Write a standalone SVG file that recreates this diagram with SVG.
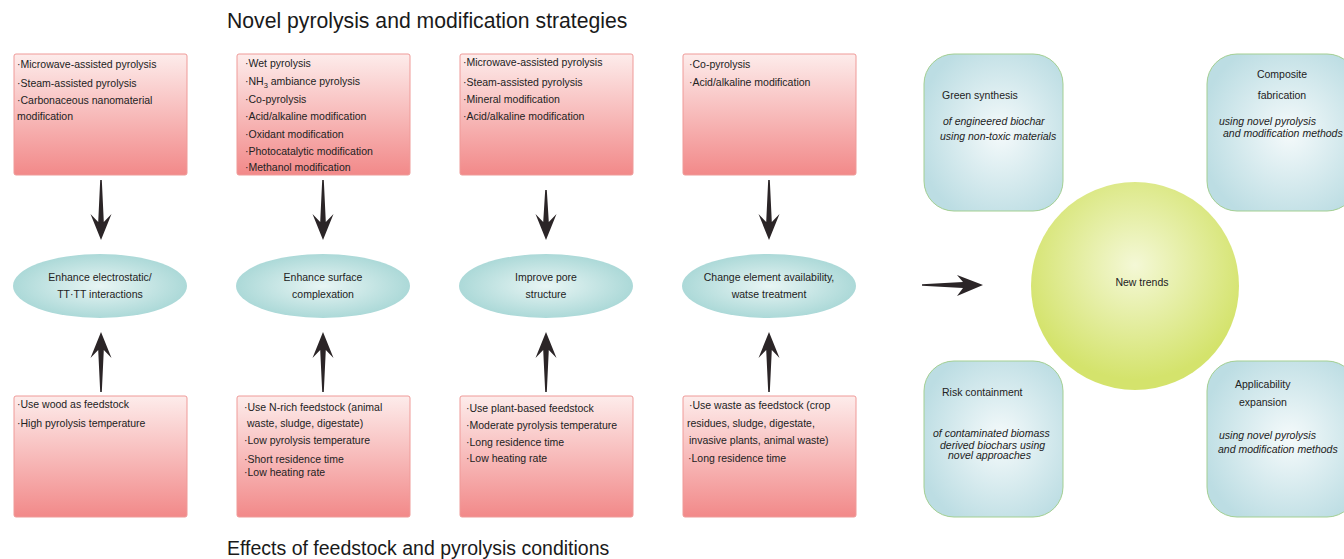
<svg xmlns="http://www.w3.org/2000/svg" width="1344" height="559" viewBox="0 0 1344 559">
<defs>
<linearGradient id="gBox" x1="0" y1="0" x2="0" y2="1">
<stop offset="0" stop-color="#fdeceb"/>
<stop offset="1" stop-color="#f28989"/>
</linearGradient>
<radialGradient id="gEll" cx="0.5" cy="0.5" r="0.5">
<stop offset="0" stop-color="#e8f5f4"/>
<stop offset="1" stop-color="#acd9d8"/>
</radialGradient>
<radialGradient id="gRound" cx="0.55" cy="0.5" r="0.6">
<stop offset="0" stop-color="#f5fafb"/>
<stop offset="1" stop-color="#bcdde3"/>
</radialGradient>
<radialGradient id="gCircle" cx="0.5" cy="0.4" r="0.55">
<stop offset="0" stop-color="#f4f8d6"/>
<stop offset="1" stop-color="#d4e36c"/>
</radialGradient>
<style>
text{font-family:"Liberation Sans",Arial,sans-serif;fill:#222;}
.title{fill:#1a1a1a;}
.bt{font-size:10.5px;}
.et{font-size:10.5px;text-anchor:middle;}
.rt{font-size:10.5px;}
.it{font-size:10.5px;font-style:italic;}
.box{fill:url(#gBox);stroke:#ef9a98;stroke-width:1;}
.ell{fill:url(#gEll);}
.rbox{fill:url(#gRound);stroke:#a3cf92;stroke-width:1;}
.arr{fill:#2b2527;}
</style>
</defs>
<rect width="1344" height="559" fill="#ffffff"/>

<text class="title" x="227" y="28" font-size="21.2">Novel pyrolysis and modification strategies</text>
<text class="title" x="227" y="555" font-size="19.5">Effects of feedstock and pyrolysis conditions</text>

<g id="top1">
<rect class="box" x="14" y="54" width="173" height="121" rx="2"/>
<text class="bt" x="17" y="68">·Microwave-assisted pyrolysis</text>
<text class="bt" x="17" y="87">·Steam-assisted pyrolysis</text>
<text class="bt" x="17" y="104">·Carbonaceous nanomaterial</text>
<text class="bt" x="17" y="120">modification</text>
</g>
<g id="top2">
<rect class="box" x="237" y="54" width="173" height="121" rx="2"/>
<text class="bt" x="245" y="67">·Wet pyrolysis</text>
<text class="bt" x="245" y="85">·NH<tspan font-size="7.5" dy="3">3</tspan><tspan dy="-3"> ambiance pyrolysis</tspan></text>
<text class="bt" x="245" y="103">·Co-pyrolysis</text>
<text class="bt" x="245" y="120">·Acid/alkaline modification</text>
<text class="bt" x="245" y="138">·Oxidant modification</text>
<text class="bt" x="245" y="155">·Photocatalytic modification</text>
<text class="bt" x="245" y="171">·Methanol modification</text>
</g>
<g id="top3">
<rect class="box" x="460" y="54" width="173" height="121" rx="2"/>
<text class="bt" x="463" y="66">·Microwave-assisted pyrolysis</text>
<text class="bt" x="463" y="86">·Steam-assisted pyrolysis</text>
<text class="bt" x="463" y="103">·Mineral modification</text>
<text class="bt" x="463" y="120">·Acid/alkaline modification</text>
</g>
<g id="top4">
<rect class="box" x="683" y="54" width="173" height="121" rx="2"/>
<text class="bt" x="689" y="68">·Co-pyrolysis</text>
<text class="bt" x="689" y="86">·Acid/alkaline modification</text>
</g>

<g id="ell1">
<ellipse class="ell" cx="100" cy="286" rx="87" ry="32"/>
<text class="et" x="100" y="281">Enhance electrostatic/</text>
<text class="et" x="100" y="298">TT·TT interactions</text>
</g>
<g id="ell2">
<ellipse class="ell" cx="323" cy="286" rx="87" ry="32"/>
<text class="et" x="323" y="281">Enhance surface</text>
<text class="et" x="323" y="298">complexation</text>
</g>
<g id="ell3">
<ellipse class="ell" cx="546" cy="286" rx="87" ry="32"/>
<text class="et" x="546" y="281">Improve pore</text>
<text class="et" x="546" y="298">structure</text>
</g>
<g id="ell4">
<ellipse class="ell" cx="769" cy="286" rx="87" ry="32"/>
<text class="et" x="769" y="281">Change element availability,</text>
<text class="et" x="769" y="298">watse treatment</text>
</g>

<g id="bot1">
<rect class="box" x="14" y="396" width="173" height="121" rx="2"/>
<text class="bt" x="17" y="408">·Use wood as feedstock</text>
<text class="bt" x="17" y="427">·High pyrolysis temperature</text>
</g>
<g id="bot2">
<rect class="box" x="237" y="396" width="173" height="121" rx="2"/>
<text class="bt" x="244" y="411">·Use N-rich feedstock (animal</text>
<text class="bt" x="247" y="427">waste, sludge, digestate)</text>
<text class="bt" x="244" y="444">·Low pyrolysis temperature</text>
<text class="bt" x="244" y="463">·Short residence time</text>
<text class="bt" x="244" y="476">·Low heating rate</text>
</g>
<g id="bot3">
<rect class="box" x="460" y="396" width="173" height="121" rx="2"/>
<text class="bt" x="466" y="412">·Use plant-based feedstock</text>
<text class="bt" x="466" y="429">·Moderate pyrolysis temperature</text>
<text class="bt" x="466" y="446">·Long residence time</text>
<text class="bt" x="466" y="462">·Low heating rate</text>
</g>
<g id="bot4">
<rect class="box" x="683" y="396" width="173" height="121" rx="2"/>
<text class="bt" x="689" y="409">·Use waste as feedstock (crop</text>
<text class="bt" x="687" y="427">residues, sludge, digestate,</text>
<text class="bt" x="689" y="444">invasive plants, animal waste)</text>
<text class="bt" x="688" y="462">·Long residence time</text>
</g>

<g id="trends">
<circle cx="1135" cy="286" r="104" fill="url(#gCircle)"/>
<text class="rt" x="1142" y="286" text-anchor="middle">New trends</text>
</g>
<g id="green">
<rect class="rbox" x="924" y="54" width="139" height="157" rx="30"/>
<text class="rt" x="942" y="99">Green synthesis</text>
<text class="it" x="943" y="125">of engineered biochar</text>
<text class="it" x="940" y="140">using non-toxic materials</text>
</g>
<g id="composite">
<rect class="rbox" x="1207" y="54" width="150" height="157" rx="30"/>
<text class="rt" x="1282" y="78" text-anchor="middle">Composite</text>
<text class="rt" x="1282" y="99" text-anchor="middle">fabrication</text>
<text class="it" x="1219" y="125">using novel pyrolysis</text>
<text class="it" x="1223" y="137">and modification methods</text>
</g>
<g id="risk">
<rect class="rbox" x="924" y="361" width="139" height="156" rx="30"/>
<text class="rt" x="942" y="396">Risk containment</text>
<text class="it" x="933" y="437">of contaminated biomass</text>
<text class="it" x="940" y="449">derived biochars using</text>
<text class="it" x="948" y="459">novel approaches</text>
</g>
<g id="applicability">
<rect class="rbox" x="1207" y="361" width="150" height="156" rx="30"/>
<text class="rt" x="1235" y="388">Applicability</text>
<text class="rt" x="1239" y="406">expansion</text>
<text class="it" x="1219" y="439">using novel pyrolysis</text>
<text class="it" x="1218" y="453">and modification methods</text>
</g>

<g id="connectors">
<path class="arr" d="M100.2,180 L101.8,180 L103.8,222 L111.5,214 L101,240 L90.5,214 L98.2,222 Z"/>
<path class="arr" d="M322.2,180 L323.8,180 L325.8,222 L333.5,214 L323,240 L312.5,214 L320.2,222 Z"/>
<path class="arr" d="M545.2,190 L546.8,190 L548.8,222 L556.5,214 L546,240 L535.5,214 L543.2,222 Z"/>
<path class="arr" d="M768.2,180 L769.8,180 L771.8,222 L779.5,214 L769,240 L758.5,214 L766.2,222 Z"/>
<path class="arr" d="M100.2,392 L101.8,392 L103.8,350 L111.5,358 L101,332 L90.5,358 L98.2,350 Z"/>
<path class="arr" d="M322.2,392 L323.8,392 L325.8,350 L333.5,358 L323,332 L312.5,358 L320.2,350 Z"/>
<path class="arr" d="M545.2,392 L546.8,392 L548.8,350 L556.5,358 L546,332 L535.5,358 L543.2,350 Z"/>
<path class="arr" d="M768.2,392 L769.8,392 L771.8,350 L779.5,358 L769,332 L758.5,358 L766.2,350 Z"/>
<path class="arr" d="M922,284.2 L922,285.8 L963,288 L957,296 L983,285 L957,275 L963,282 Z"/>
</g>
</svg>
